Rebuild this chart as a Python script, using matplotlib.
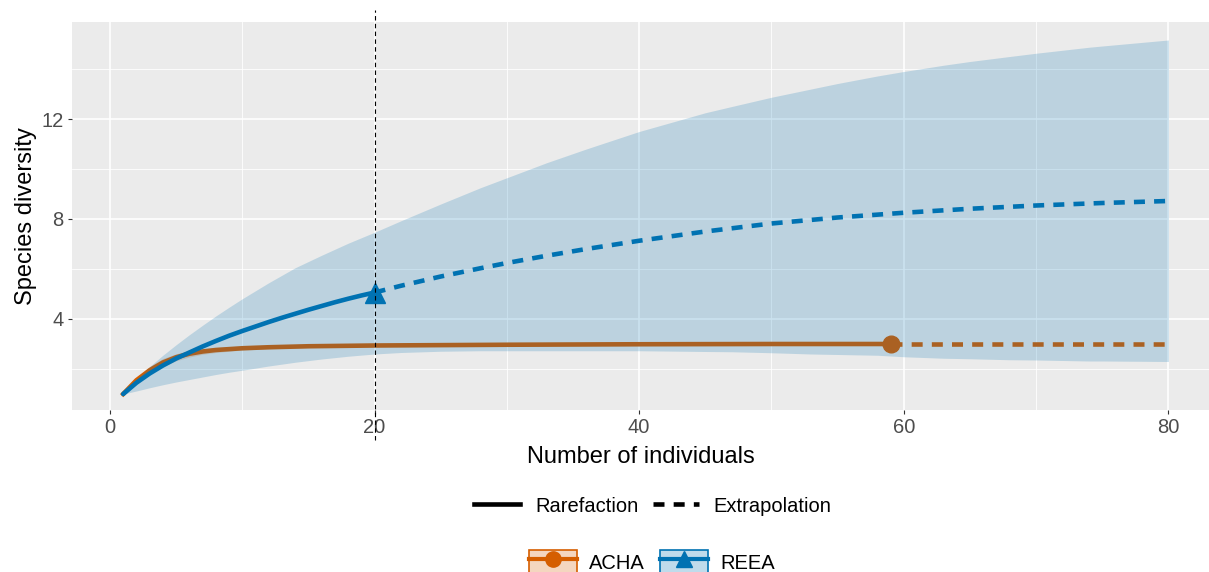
import matplotlib as mpl
import matplotlib.pyplot as plt
from matplotlib.lines import Line2D
from matplotlib.patches import Patch

mpl.rcParams["font.family"] = ["Liberation Sans", "DejaVu Sans"]

# ---- data ----
# REEA (observed n = 20)
reea_rare_x = [1, 2, 3, 4, 5, 6, 7, 8, 9, 10, 11, 12, 13, 14, 15, 16, 17, 18, 19, 20]
reea_rare_y = [1.0, 1.45, 1.82, 2.14, 2.42, 2.66, 2.9, 3.12, 3.33, 3.52, 3.7,
               3.88, 4.05, 4.21, 4.37, 4.52, 4.67, 4.81, 4.94, 5.06]
reea_ext_x = [20, 22, 25, 28, 30, 33, 36, 40, 45, 50, 55, 60, 65, 70, 75, 80]
reea_ext_y = [5.06, 5.33, 5.7, 6.03, 6.24, 6.53, 6.8, 7.13, 7.5, 7.82, 8.06,
              8.25, 8.41, 8.54, 8.64, 8.72]
reea_ci_x = [1, 2, 3, 4, 5, 6, 7, 8, 9, 10, 12, 14, 16, 18, 20, 22, 25, 28, 30,
             33, 36, 40, 45, 47, 50, 53, 55, 58, 60, 63, 65, 68, 70, 74, 75, 80]
reea_ci_lo = [1.0, 1.12, 1.25, 1.37, 1.48, 1.58, 1.68, 1.78, 1.87, 1.95, 2.12,
              2.27, 2.4, 2.51, 2.6, 2.66, 2.71, 2.73, 2.73, 2.73, 2.73, 2.73,
              2.7, 2.69, 2.65, 2.6, 2.58, 2.55, 2.49, 2.43, 2.41, 2.37, 2.36,
              2.32, 2.32, 2.3]
reea_ci_hi = [1.0, 1.6, 2.1, 2.55, 2.97, 3.37, 3.75, 4.12, 4.47, 4.81, 5.45,
              6.05, 6.55, 7.03, 7.47, 7.93, 8.6, 9.25, 9.65, 10.25, 10.8, 11.5,
              12.25, 12.5, 12.87, 13.2, 13.42, 13.72, 13.9, 14.15, 14.3, 14.5,
              14.63, 14.87, 14.92, 15.16]

# ACHA (observed n = 59)
acha_rare_x = [1, 2, 3, 4, 5, 6, 7, 8, 10, 12, 15, 20, 30, 40, 50, 59]
acha_rare_y = [1.0, 1.55, 1.95, 2.26, 2.47, 2.61, 2.7, 2.76, 2.83, 2.87, 2.91,
               2.94, 2.97, 2.99, 3.0, 3.0]
acha_ext_x = [59, 80]
acha_ext_y = [3.0, 3.0]
acha_ci_lo = [1.0, 1.45, 1.8, 2.1, 2.33, 2.48, 2.59, 2.66, 2.76, 2.81, 2.86,
              2.9, 2.94, 2.96, 2.97, 2.97]
acha_ci_hi = [1.0, 1.65, 2.1, 2.42, 2.61, 2.74, 2.81, 2.86, 2.9, 2.93, 2.96,
              2.98, 3.0, 3.02, 3.03, 3.03]

ORANGE = "#D55E00"
BLUE = "#0072B2"
DASH = (0, (2.4, 2.0))

fig = plt.figure(figsize=(12.09, 5.72), dpi=100)
ax = fig.add_axes([72 / 1209, 1 - 410 / 572, 1 - 72 / 1209, (410 - 22) / 572])
ax.set_facecolor("#EBEBEB")
for s in ax.spines.values():
    s.set_visible(False)
ax.set_axisbelow(True)

# ACHA first, the REEA ribbon is laid over it (gives the brownish tone)
ax.fill_between(acha_rare_x, acha_ci_lo, acha_ci_hi, color=ORANGE, alpha=0.2,
                lw=0, zorder=1.0)
ax.plot(acha_rare_x, acha_rare_y, color=ORANGE, lw=3.3, zorder=1.1)
ax.plot(acha_ext_x, acha_ext_y, color=ORANGE, lw=3.3, linestyle=DASH, zorder=1.1)
ax.plot([acha_rare_x[-1]], [acha_rare_y[-1]], "o", color=ORANGE, ms=12, zorder=1.2)

ax.fill_between(reea_ci_x, reea_ci_lo, reea_ci_hi, color=BLUE, alpha=0.2,
                lw=0, zorder=1.5)
ax.plot(reea_rare_x, reea_rare_y, color=BLUE, lw=3.3, solid_capstyle="round",
        zorder=2)
ax.plot(reea_ext_x, reea_ext_y, color=BLUE, lw=3.3, linestyle=DASH, zorder=2)
ax.plot([reea_rare_x[-1]], [reea_rare_y[-1]], "^", color=BLUE, ms=14, zorder=2.1)

ax.axvline(20, ymin=-0.077, ymax=1.03, color="black", lw=0.8,
           linestyle=(0, (4, 3)), clip_on=False, zorder=3)

ax.set_xlim(-2.87, 83.07)
ax.set_ylim(0.36, 15.88)
ax.set_xticks([0, 20, 40, 60, 80])
ax.set_xticks([10, 30, 50, 70], minor=True)
ax.set_yticks([4, 8, 12])
ax.set_yticks([2, 6, 10, 14], minor=True)
ax.grid(which="major", color="white", lw=1.2)
ax.grid(which="minor", color="white", lw=0.6)
ax.tick_params(which="major", length=3, width=0.8, color="#333333",
               labelsize=14.5, labelcolor="#4D4D4D", pad=3)
ax.tick_params(which="minor", length=0)
ax.set_xlabel("Number of individuals", fontsize=17, labelpad=6)
ax.set_ylabel("Species diversity", fontsize=17, labelpad=3)

# legends
lt_handles = [Line2D([], [], color="black", lw=3.3),
              Line2D([], [], color="black", lw=3.3, linestyle=DASH)]
fig.legend(lt_handles, ["Rarefaction", "Extrapolation"], ncol=2,
           loc="center", bbox_to_anchor=(653 / 1209, 1 - 506 / 572),
           frameon=False, fontsize=14.5, handlelength=2.25,
           handletextpad=0.75, columnspacing=0.75)

sp_handles = [
    (Patch(facecolor=ORANGE, alpha=0.25, edgecolor="none"),
     Patch(facecolor="none", edgecolor=ORANGE, lw=1.2),
     Line2D([], [], color=ORANGE, lw=3, marker="o", ms=11)),
    (Patch(facecolor=BLUE, alpha=0.25, edgecolor="none"),
     Patch(facecolor="none", edgecolor=BLUE, lw=1.2),
     Line2D([], [], color=BLUE, lw=3, marker="^", ms=12)),
]
fig.legend(sp_handles, ["ACHA", "REEA"], ncol=2, loc="center",
           bbox_to_anchor=(652 / 1209, 1 - 562 / 572), frameon=False,
           fontsize=14.5, handlelength=2.4, handleheight=1.5,
           handletextpad=0.6, columnspacing=0.75)

fig.savefig("out.png", dpi=100)
